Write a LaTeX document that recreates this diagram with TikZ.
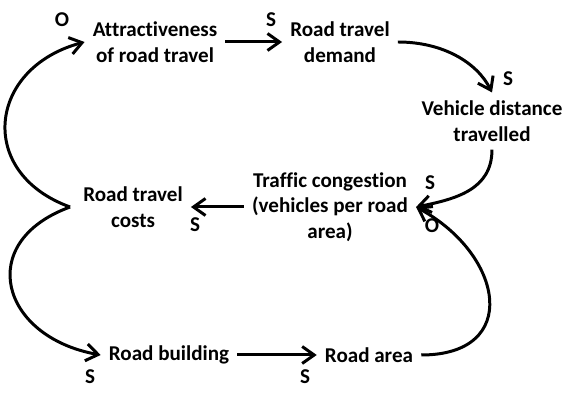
\documentclass[tikz,border=0pt]{standalone}
\usepackage{fontspec}
\setmainfont{Carlito}[Ligatures=NoCommon]
\usetikzlibrary{positioning}
\usetikzlibrary{arrows.meta}

\begin{document}
\begin{tikzpicture}[x=0.02cm,y=-0.02cm,
  >={Straight Barb[length=2.4mm,width=3.4mm]},
  var/.style={align=center,inner sep=4.5pt,font=\fontsize{12}{14.6}\selectfont\bfseries},
  pol/.style={inner sep=0pt,font=\fontsize{12}{14.6}\selectfont\bfseries},
  link/.style={->,line width=1.7pt}]
\useasboundingbox (0,0) rectangle (583,401);
% variables
\node[var] (attr) at (155,42) {Attractiveness\\of road travel};
\node[var] (demand) at (340,42) {Road travel\\demand};
\node[var] (vdt) at (492,121) {Vehicle distance\\travelled};
\node[var] (cong) at (330,207) {Traffic congestion\\(vehicles per road\\area)};
\node[var] (costs) at (133,207) {Road travel\\costs};
\node[var] (build) at (169,355) {Road building};
\node[var] (area) at (369,355) {Road area};
\coordinate[left=0.1cm of costs] (fork);
% links
\draw[link] (attr) -- (demand);
\draw[link] (demand.east) .. controls +(45,0) and +(-15,-30) .. (vdt.north);
\draw[link] (vdt.south) .. controls +(0,40) and +(40,-8) .. (cong.east);
\draw[link] (area.east) .. controls +(100,0) and +(88,48) .. (cong.east);
\draw[link] (cong) -- (costs);
\draw[link] (fork) .. controls +(-94,-34) and +(-97,26) .. (attr.west);
\draw[link] (fork) .. controls +(-96,35) and +(-100,-18) .. (build.west);
\draw[link] (build) -- (area);
% polarities
\node[pol] (polAttr) at (62,20) {O};
\node[pol] (polDemand) at (271,20) {S};
\node[pol] (polVdt) at (508,79) {S};
\node[pol] (polCongA) at (430,183) {S};
\node[pol] (polCongB) at (432,226) {O};
\node[pol] (polCosts) at (195,225) {S};
\node[pol] (polBuild) at (90,377) {S};
\node[pol] (polArea) at (305,377) {S};
\end{tikzpicture}
\end{document}
